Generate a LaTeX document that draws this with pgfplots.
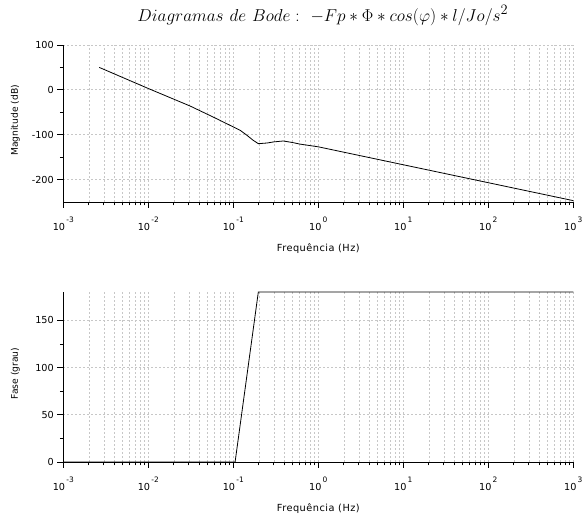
\documentclass[border=0pt]{standalone}
\usepackage{pgfplots}
\pgfplotsset{compat=1.18}
\usepackage{fontspec}
\setmainfont{DejaVu Sans}
\newcommand{\dec}[1]{10\hspace{1.2bp}\raisebox{8.5bp}{\fontsize{7.5}{8}\selectfont #1}}
\pgfplotsset{
  bodestyle/.style={
    xmin=1e-3, xmax=1e3,
    width=510bp, scale only axis,
    axis x line*=bottom, axis y line*=left,
    tick align=outside,
    major tick length=6bp, minor tick length=3.5bp,
    xtick={1e-3,1e-2,1e-1,1e0,1e1,1e2,1e3},
    xticklabels={\dec{-3},\dec{-2},\dec{-1},\dec{0},\dec{1},\dec{2},\dec{3}},
    xmajorgrids, xminorgrids, ymajorgrids,
    major grid style={black!22, dash pattern=on 2bp off 2bp, line width=0.7bp},
    minor grid style={black!22, dash pattern=on 2bp off 2bp, line width=0.7bp},
    tick style={black, line width=0.8bp},
    axis line style={black, line width=0.9bp},
    tick label style={font=\fontsize{9.7}{11}\selectfont},
    xticklabel style={anchor=base, yshift=-23bp},
    xlabel style={font=\addfontfeatures{LetterSpace=5}\fontsize{9.8}{11}\selectfont,
                  at={(axis description cs:0.5,0)}, anchor=base, yshift=-50bp},
    ylabel style={font=\fontsize{9.2}{11}\selectfont,
                  at={(axis description cs:-0.094,0.52)}, anchor=center},
    /pgf/number format/assume math mode=true,
    xlabel={Frequência (Hz)},
    minor y tick num=1,
  }
}
\begin{document}
\begin{tikzpicture}[x=1bp,y=1bp]
\path[use as bounding box] (0,0) rectangle (585,521);
\begin{semilogxaxis}[bodestyle,
  at={(63.3bp,319bp)}, anchor=south west, height=157bp,
  ymin=-250, ymax=100,
  ytick={-200,-100,0,100}, yticklabels={-200,-100,0,100},
  ylabel={Magnitude (dB)},
  title={$Diagramas\ de\ Bode:\ -Fp*\Phi*cos(\varphi)*l/Jo/s^2$},
  title style={at={(axis description cs:0.5,1)}, anchor=base, yshift=18bp, xshift=4.5bp, font=\fontsize{19}{23}\selectfont},
]
\addplot[black, line width=0.8bp] coordinates {
(0.00265,50) (0.01,3) (0.031,-36) (0.06,-62) (0.096,-81) (0.12,-90) (0.144,-101) (0.17,-112) (0.197,-120)
(0.25,-118.5) (0.3,-116) (0.387,-114) (0.5,-117.5) (0.61,-121) (1,-127) (10,-167) (100,-207) (1000,-247)};
\end{semilogxaxis}
\begin{semilogxaxis}[bodestyle,
  at={(63.3bp,59bp)}, anchor=south west, height=170bp,
  ymin=0, ymax=180,
  ytick={0,50,100,150}, yticklabels={0,50,100,150},
  ylabel={Fase (grau)},
]
\addplot[black, line width=0.8bp] coordinates {(0.001,0) (0.105,0) (0.197,180) (1000,180)};
\end{semilogxaxis}
\end{tikzpicture}
\end{document}
